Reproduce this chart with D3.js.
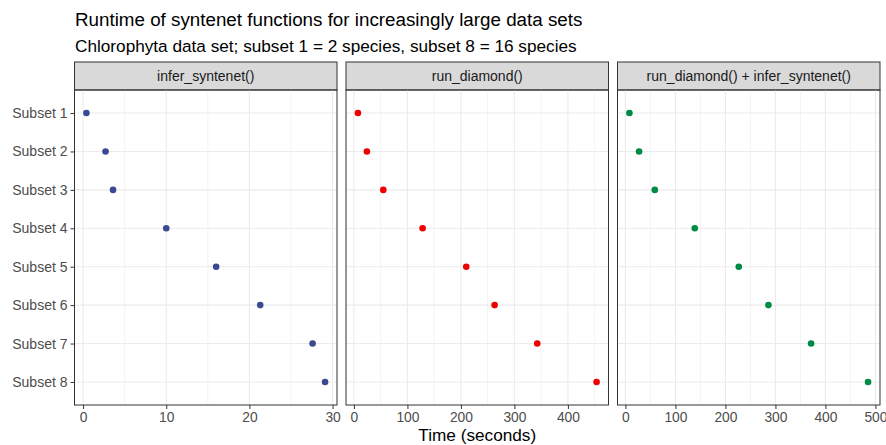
<!DOCTYPE html>
<html>
<head>
<meta charset="utf-8">
<script src="https://cdn.jsdelivr.net/npm/d3@7"></script>
<style>
  body { margin: 0; background: white; }
  svg { display: block; font-family: "Liberation Sans", Arial, sans-serif; }
</style>
</head>
<body>
<div id="chart"></div>
<script>
// data
const subsets = ["Subset 1", "Subset 2", "Subset 3", "Subset 4", "Subset 5", "Subset 6", "Subset 7", "Subset 8"];
const facets = ["infer_syntenet()", "run_diamond()", "run_diamond() + infer_syntenet()"];
const inferTime = [0.4, 2.7, 3.6, 10.0, 16.0, 21.3, 27.6, 29.1];
const diamondTime = [7.5, 24.3, 54.9, 128.4, 210, 263, 342.7, 453.6];
const bothTime = [8.0, 27.3, 58.7, 138.7, 226.7, 286, 371.3, 485.3];
const xBreaks = [[0, 10, 20, 30], [0, 100, 200, 300, 400], [0, 100, 200, 300, 400, 500]];
const colours = ["#3B4992", "#EE0000", "#008B45"];

const series = [inferTime, diamondTime, bothTime];

// plot globals
const w = 886, h = 445;
const m = { top: 90, right: 6, bottom: 40, left: 74.5 };
const stripH = 28;
const gap = 9;
const panelW = (w - m.left - m.right - 2 * gap) / 3;

const svg = d3.select("#chart")
  .append("svg")
  .attr("width", w)
  .attr("height", h)
  .attr("viewBox", [0, 0, w, h]);

// titles
svg.append("text")
  .attr("x", 75).attr("y", 26)
  .attr("font-size", 18.8)
  .attr("fill", "black")
  .text("Runtime of syntenet functions for increasingly large data sets");

svg.append("text")
  .attr("x", 75).attr("y", 51.5)
  .attr("font-size", 17.2)
  .attr("fill", "black")
  .text("Chlorophyta data set; subset 1 = 2 species, subset 8 = 16 species");

// shared y scale (discrete, ggplot-style 0.6 expansion)
const y = d3.scalePoint()
  .domain(subsets)
  .range([m.top, h - m.bottom])
  .padding(0.6);

// y axis labels on the left
const yAxis = svg.append("g")
  .attr("transform", `translate(${m.left},0)`)
  .call(d3.axisLeft(y).tickSize(4).tickPadding(3));
yAxis.select(".domain").remove();
yAxis.selectAll(".tick line").attr("stroke", "#333333").attr("stroke-width", 1);
yAxis.selectAll("text")
  .attr("font-size", 14)
  .attr("fill", "#4D4D4D")
  .attr("font-family", "Liberation Sans, Arial, sans-serif");

facets.forEach((name, i) => {
  const x0 = m.left + i * (panelW + gap);
  const vals = series[i];
  const lo = d3.min(vals), hi = d3.max(vals);
  const pad = 0.05 * (hi - lo);
  const x = d3.scaleLinear()
    .domain([lo - pad, hi + pad])
    .range([x0, x0 + panelW]);

  const g = svg.append("g");

  // strip
  g.append("rect")
    .attr("x", x0).attr("y", m.top - stripH)
    .attr("width", panelW).attr("height", stripH)
    .attr("fill", "#D9D9D9")
    .attr("stroke", "#333333")
    .attr("stroke-width", 1);
  g.append("text")
    .attr("x", x0 + panelW / 2)
    .attr("y", m.top - stripH / 2)
    .attr("dy", "0.35em")
    .attr("text-anchor", "middle")
    .attr("font-size", 14)
    .attr("fill", "#1A1A1A")
    .text(name);

  // grid: minor lines at midpoints
  const br = xBreaks[i];
  const stepB = br[1] - br[0];
  const minor = d3.range(br[0] - stepB / 2, hi + pad + stepB, stepB)
    .filter((v) => v > x.domain()[0] && v < x.domain()[1]);
  g.selectAll(".minor")
    .data(minor)
    .join("line")
    .attr("x1", (d) => x(d)).attr("x2", (d) => x(d))
    .attr("y1", m.top).attr("y2", h - m.bottom)
    .attr("stroke", "#EBEBEB").attr("stroke-width", 0.6);
  g.selectAll(".major")
    .data(br)
    .join("line")
    .attr("x1", (d) => x(d)).attr("x2", (d) => x(d))
    .attr("y1", m.top).attr("y2", h - m.bottom)
    .attr("stroke", "#EBEBEB").attr("stroke-width", 1.1);
  g.selectAll(".hgrid")
    .data(subsets)
    .join("line")
    .attr("x1", x0).attr("x2", x0 + panelW)
    .attr("y1", (d) => y(d)).attr("y2", (d) => y(d))
    .attr("stroke", "#EBEBEB").attr("stroke-width", 1.1);

  // points
  g.selectAll("circle")
    .data(vals)
    .join("circle")
    .attr("cx", (d) => x(d))
    .attr("cy", (d, j) => y(subsets[j]))
    .attr("r", 3.3)
    .attr("fill", colours[i]);

  // panel border
  g.append("rect")
    .attr("x", x0).attr("y", m.top)
    .attr("width", panelW).attr("height", h - m.bottom - m.top)
    .attr("fill", "none")
    .attr("stroke", "#333333")
    .attr("stroke-width", 1);

  // x axis
  const xa = g.append("g")
    .attr("transform", `translate(0,${h - m.bottom})`)
    .call(d3.axisBottom(x).tickValues(br).tickSize(4).tickPadding(3));
  xa.select(".domain").remove();
  xa.selectAll(".tick line").attr("stroke", "#333333");
  xa.selectAll("text")
    .attr("font-size", 13.8)
    .attr("fill", "#4D4D4D")
    .attr("font-family", "Liberation Sans, Arial, sans-serif");
});

// x axis title
svg.append("text")
  .attr("x", m.left + (w - m.left - m.right) / 2)
  .attr("y", 441)
  .attr("text-anchor", "middle")
  .attr("font-size", 17.2)
  .attr("fill", "black")
  .text("Time (seconds)");
</script>
</body>
</html>
